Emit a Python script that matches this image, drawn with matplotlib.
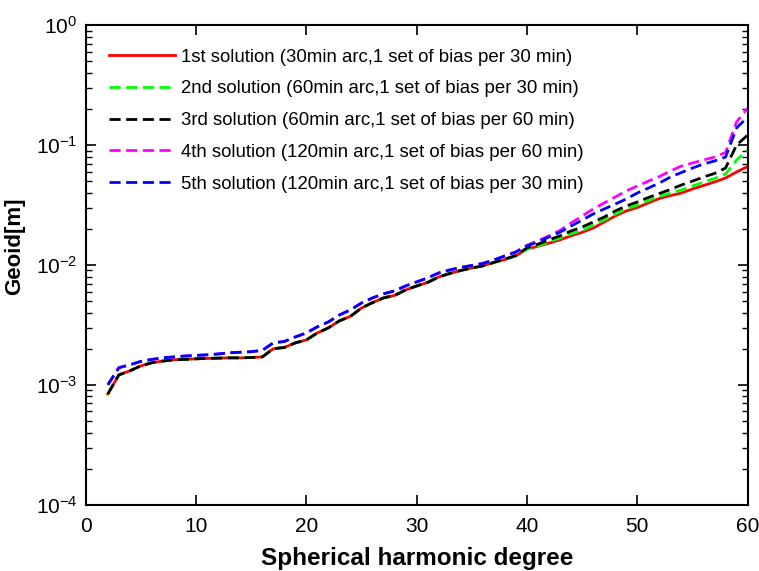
import matplotlib
matplotlib.use("Agg")
import matplotlib.pyplot as plt
from matplotlib.ticker import LogLocator, NullFormatter

plt.rcParams['font.family'] = ['Liberation Sans', 'DejaVu Sans']
plt.rcParams['axes.unicode_minus'] = False

# spherical harmonic degrees
degree = list(range(2, 61))

# geoid error per solution [m]
sol1 = [8.4e-4, 1.21e-3, 1.31e-3, 1.44e-3, 1.53e-3, 1.58e-3, 1.62e-3, 1.63e-3, 1.65e-3,
        1.66e-3, 1.67e-3, 1.68e-3, 1.68e-3, 1.69e-3, 1.71e-3, 2.0e-3, 2.05e-3, 2.24e-3,
        2.37e-3, 2.71e-3, 2.99e-3, 3.42e-3, 3.73e-3, 4.38e-3, 4.85e-3, 5.31e-3, 5.57e-3,
        6.19e-3, 6.68e-3, 7.15e-3, 7.94e-3, 8.49e-3, 9.0e-3, 9.44e-3, 9.82e-3, 1.05e-2,
        1.11e-2, 1.19e-2, 1.36e-2, 1.43e-2, 1.52e-2, 1.62e-2, 1.75e-2, 1.87e-2, 2.03e-2,
        2.28e-2, 2.56e-2, 2.82e-2, 3.01e-2, 3.29e-2, 3.58e-2, 3.79e-2, 3.98e-2, 4.30e-2,
        4.6e-2, 4.92e-2, 5.31e-2, 5.96e-2, 6.62e-2]
sol2 = [8.4e-4, 1.21e-3, 1.31e-3, 1.44e-3, 1.53e-3, 1.58e-3, 1.62e-3, 1.63e-3, 1.65e-3,
        1.66e-3, 1.67e-3, 1.68e-3, 1.68e-3, 1.69e-3, 1.71e-3, 2.0e-3, 2.05e-3, 2.24e-3,
        2.37e-3, 2.71e-3, 2.99e-3, 3.42e-3, 3.73e-3, 4.38e-3, 4.85e-3, 5.31e-3, 5.57e-3,
        6.19e-3, 6.68e-3, 7.15e-3, 7.94e-3, 8.49e-3, 9.0e-3, 9.44e-3, 9.82e-3, 1.05e-2,
        1.11e-2, 1.19e-2, 1.36e-2, 1.44e-2, 1.56e-2, 1.68e-2, 1.82e-2, 1.94e-2, 2.15e-2,
        2.37e-2, 2.66e-2, 2.93e-2, 3.16e-2, 3.44e-2, 3.73e-2, 3.98e-2, 4.22e-2, 4.55e-2,
        4.92e-2, 5.26e-2, 5.73e-2, 7.5e-2, 9.1e-2]
sol3 = [8.4e-4, 1.21e-3, 1.31e-3, 1.44e-3, 1.53e-3, 1.58e-3, 1.62e-3, 1.63e-3, 1.65e-3,
        1.66e-3, 1.67e-3, 1.68e-3, 1.68e-3, 1.69e-3, 1.71e-3, 2.0e-3, 2.05e-3, 2.24e-3,
        2.37e-3, 2.71e-3, 2.99e-3, 3.42e-3, 3.73e-3, 4.38e-3, 4.85e-3, 5.31e-3, 5.57e-3,
        6.19e-3, 6.68e-3, 7.15e-3, 7.94e-3, 8.49e-3, 9.0e-3, 9.44e-3, 9.82e-3, 1.05e-2,
        1.12e-2, 1.20e-2, 1.39e-2, 1.49e-2, 1.62e-2, 1.75e-2, 1.92e-2, 2.07e-2, 2.28e-2,
        2.51e-2, 2.82e-2, 3.1e-2, 3.35e-2, 3.65e-2, 3.94e-2, 4.26e-2, 4.64e-2, 5.0e-2,
        5.41e-2, 5.79e-2, 6.43e-2, 0.1, 0.121]
sol4 = [1.0e-3, 1.39e-3, 1.47e-3, 1.57e-3, 1.63e-3, 1.68e-3, 1.71e-3, 1.74e-3, 1.76e-3,
        1.78e-3, 1.81e-3, 1.85e-3, 1.87e-3, 1.89e-3, 1.94e-3, 2.24e-3, 2.30e-3, 2.51e-3,
        2.71e-3, 3.05e-3, 3.35e-3, 3.83e-3, 4.22e-3, 4.82e-3, 5.31e-3, 5.74e-3, 6.08e-3,
        6.68e-3, 7.22e-3, 7.8e-3, 8.58e-3, 9.08e-3, 9.53e-3, 9.9e-3, 1.03e-2, 1.1e-2,
        1.19e-2, 1.29e-2, 1.46e-2, 1.59e-2, 1.75e-2, 1.94e-2, 2.24e-2, 2.56e-2, 2.93e-2,
        3.29e-2, 3.69e-2, 4.14e-2, 4.55e-2, 5.0e-2, 5.46e-2, 6.07e-2, 6.68e-2, 7.08e-2,
        7.5e-2, 7.94e-2, 8.66e-2, 0.156, 0.203]
sol5 = [1.0e-3, 1.39e-3, 1.47e-3, 1.57e-3, 1.63e-3, 1.68e-3, 1.71e-3, 1.74e-3, 1.76e-3,
        1.78e-3, 1.81e-3, 1.85e-3, 1.87e-3, 1.89e-3, 1.94e-3, 2.24e-3, 2.30e-3, 2.51e-3,
        2.71e-3, 3.05e-3, 3.35e-3, 3.83e-3, 4.22e-3, 4.82e-3, 5.31e-3, 5.74e-3, 6.08e-3,
        6.68e-3, 7.22e-3, 7.8e-3, 8.58e-3, 9.08e-3, 9.53e-3, 9.9e-3, 1.03e-2, 1.1e-2,
        1.19e-2, 1.28e-2, 1.44e-2, 1.56e-2, 1.71e-2, 1.88e-2, 2.11e-2, 2.37e-2, 2.66e-2,
        2.93e-2, 3.22e-2, 3.55e-2, 3.98e-2, 4.38e-2, 4.82e-2, 5.41e-2, 5.9e-2, 6.43e-2,
        6.95e-2, 7.36e-2, 7.94e-2, 0.139, 0.171]

labels = [
    "1st solution (30min arc,1 set of bias per 30 min)",
    "2nd solution (60min arc,1 set of bias per 30 min)",
    "3rd solution (60min arc,1 set of bias per 60 min)",
    "4th solution (120min arc,1 set of bias per 60 min)",
    "5th solution (120min arc,1 set of bias per 30 min)",
]

fig = plt.figure(figsize=(7.59, 5.71), dpi=100)
ax = fig.add_axes([0.113, 0.116, 0.872, 0.840])

ax.semilogy(degree, sol1, color='red', lw=2, label=labels[0])
ax.semilogy(degree, sol2, color='#00ff00', lw=2, ls='--', dashes=(4, 2), label=labels[1])
ax.semilogy(degree, sol3, color='black', lw=2, ls='--', dashes=(4, 2), label=labels[2])
ax.semilogy(degree, sol4, color='magenta', lw=2, ls='--', dashes=(4, 2), label=labels[3])
ax.semilogy(degree, sol5, color='blue', lw=2, ls='--', dashes=(4, 2), label=labels[4])

ax.set_xlim(0, 60)
ax.set_ylim(1e-4, 1)
ax.set_xticks(range(0, 61, 10))
ax.yaxis.set_major_locator(LogLocator(base=10, numticks=10))
ax.yaxis.set_minor_locator(LogLocator(base=10, subs=range(2, 10), numticks=20))
ax.yaxis.set_minor_formatter(NullFormatter())

ax.tick_params(which='both', direction='in', top=True, right=True, labelsize=15)
ax.tick_params(axis='x', pad=9)
ax.tick_params(axis='y', pad=6)
ax.tick_params(which='major', length=7, width=1.2)
ax.tick_params(which='minor', length=4, width=1)
for s in ax.spines.values():
    s.set_linewidth(1.5)

ax.set_xlabel("Spherical harmonic degree", fontsize=17.5, fontweight='bold', labelpad=8)
ax.set_ylabel("Geoid[m]", fontsize=16, fontweight='bold')
ax.yaxis.set_label_coords(-0.091, 0.54)

ax.legend(loc='upper left', frameon=False, fontsize=13.4, handlelength=3.55,
          handletextpad=0.32, labelspacing=0.79, borderaxespad=0.86, borderpad=0.4)

fig.savefig("out.png", dpi=100)
